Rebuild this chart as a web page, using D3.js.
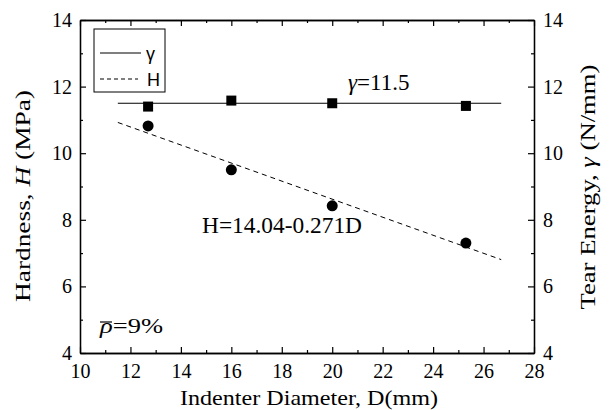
<!DOCTYPE html>
<html><head><meta charset="utf-8">
<script src="https://cdn.jsdelivr.net/npm/d3@7"></script>
<style>
body{margin:0;background:#fff}svg{display:block}
svg text{font-family:"Liberation Serif","Times New Roman",Times,serif !important;fill:#000}
svg text.sans{font-family:"Liberation Sans",Arial,Helvetica,sans-serif !important}
</style>
</head><body>
<svg id="c" width="610" height="410"></svg>
<script>
const diameters = [12.7, 16, 20, 25.3];
const gammaValues = [11.4, 11.58, 11.5, 11.42];
const hardnessValues = [10.82, 9.5, 8.42, 7.3];
const fitRange = [11.5, 26.7];
const gammaFit = 11.5;
const hardFitA = 14.04, hardFitB = 0.271;
const xTicks = [10,12,14,16,18,20,22,24,26,28];
const yTicks = [4,6,8,10,12,14];

const svg = d3.select("#c");
const L=80,R=534,T=20,B=353;
const x = d3.scaleLinear().domain([10,28]).range([L,R]);
const y = d3.scaleLinear().domain([4,14]).range([B,T]);
const yr = d3.scaleLinear().domain([4,14]).range([B,T]);

const minorX = d3.range(11,28,2), minorY = d3.range(5,14,2);
function drawAxis(g, axis){ g.call(axis); g.attr("font-family",null); g.select(".domain").attr("stroke","#000").attr("stroke-width",1.3); g.selectAll(".tick line").attr("stroke","#000").attr("stroke-width",1.2); }
function styleTicks(g){ g.attr("font-size",20); g.selectAll(".tick text").attr("font-size",20).attr("fill","#000"); }
// bottom
const bx = svg.append("g").attr("transform",`translate(0,${B})`);
drawAxis(bx, d3.axisBottom(x).tickValues(xTicks).tickSizeInner(-6).tickSizeOuter(0).tickFormat(d3.format("d")));
styleTicks(bx); bx.selectAll(".tick text").attr("y",25).attr("dy",null);
const bxm = svg.append("g").attr("transform",`translate(0,${B})`);
drawAxis(bxm, d3.axisBottom(x).tickValues(minorX).tickSizeInner(-3).tickSizeOuter(0).tickFormat(""));
// top
const tx = svg.append("g").attr("transform",`translate(0,${T})`);
drawAxis(tx, d3.axisTop(x).tickValues(xTicks).tickSizeInner(-6).tickSizeOuter(0).tickFormat(""));
const txm = svg.append("g").attr("transform",`translate(0,${T})`);
drawAxis(txm, d3.axisTop(x).tickValues(minorX).tickSizeInner(-3).tickSizeOuter(0).tickFormat(""));
// left
const ly = svg.append("g").attr("transform",`translate(${L},0)`);
drawAxis(ly, d3.axisLeft(y).tickValues(yTicks).tickSizeInner(-6).tickSizeOuter(0).tickFormat(d3.format("d")));
styleTicks(ly); ly.selectAll(".tick text").attr("x",-8);
const lym = svg.append("g").attr("transform",`translate(${L},0)`);
drawAxis(lym, d3.axisLeft(y).tickValues(minorY).tickSizeInner(-3).tickSizeOuter(0).tickFormat(""));
// right
const ry = svg.append("g").attr("transform",`translate(${R},0)`);
drawAxis(ry, d3.axisRight(yr).tickValues(yTicks).tickSizeInner(-6).tickSizeOuter(0).tickFormat(d3.format("d")));
styleTicks(ry); ry.selectAll(".tick text").attr("x",9);
const rym = svg.append("g").attr("transform",`translate(${R},0)`);
drawAxis(rym, d3.axisRight(yr).tickValues(minorY).tickSizeInner(-3).tickSizeOuter(0).tickFormat(""));

// fit lines
const line = d3.line().x(d=>x(d[0])).y(d=>y(d[1]));
svg.append("path").datum(fitRange.map(d=>[d,gammaFit])).attr("d",line).attr("fill","none").attr("stroke","#000").attr("stroke-width",1.1);
svg.append("path").datum(fitRange.map(d=>[d,hardFitA-hardFitB*d])).attr("d",line).attr("fill","none").attr("stroke","#000").attr("stroke-width",1).attr("stroke-dasharray","5,4");

// markers
svg.selectAll(".sq").data(diameters).enter().append("rect")
 .attr("x",(d)=>x(d)-5).attr("y",(d,i)=>yr(gammaValues[i])-5).attr("width",10).attr("height",10).attr("fill","#000");
svg.selectAll(".ci").data(diameters).enter().append("circle")
 .attr("cx",d=>x(d)).attr("cy",(d,i)=>y(hardnessValues[i])).attr("r",5.5).attr("fill","#000");

// legend
svg.append("rect").attr("x",94).attr("y",29).attr("width",71).attr("height",63).attr("fill","#fff").attr("stroke","#000").attr("stroke-width",1);
svg.append("line").attr("x1",100).attr("x2",141).attr("y1",53).attr("y2",53).attr("stroke","#000").attr("stroke-width",1.1);
svg.append("line").attr("x1",100).attr("x2",138).attr("y1",79).attr("y2",79).attr("stroke","#000").attr("stroke-width",1).attr("stroke-dasharray","4,3");
svg.append("text").attr("class","sans").attr("x",146).attr("y",60).attr("font-size",18).text("γ");
svg.append("text").attr("class","sans").attr("x",147).attr("y",86).attr("font-size",18).text("H");

// annotations
const g1 = svg.append("text").attr("x",348).attr("y",90).attr("font-size",23);
g1.append("tspan").attr("font-style","italic").text("γ");
g1.append("tspan").text("=11.5");
svg.append("text").attr("x",202).attr("y",233).attr("font-size",23).attr("textLength",160).attr("lengthAdjust","spacingAndGlyphs").text("H=14.04-0.271D");
const rho = svg.append("text").attr("x",100).attr("y",333).attr("font-size",20).attr("textLength",63).attr("lengthAdjust","spacingAndGlyphs");
rho.append("tspan").attr("font-style","italic").text("ρ");
rho.append("tspan").text("=9%");
svg.append("line").attr("x1",100).attr("x2",112).attr("y1",322).attr("y2",322).attr("stroke","#000").attr("stroke-width",1.2);

// axis titles
svg.append("text").attr("x",309).attr("y",405).attr("text-anchor","middle").attr("font-size",21).attr("textLength",258).attr("lengthAdjust","spacingAndGlyphs").text("Indenter Diameter, D(mm)");
const lt = svg.append("text").attr("transform",`translate(30,196) rotate(-90)`).attr("text-anchor","middle").attr("font-size",21).attr("textLength",212).attr("lengthAdjust","spacingAndGlyphs");
lt.append("tspan").text("Hardness, ");
lt.append("tspan").attr("font-style","italic").text("H");
lt.append("tspan").text(" (MPa)");
const rt = svg.append("text").attr("transform",`translate(595,187) rotate(-90)`).attr("text-anchor","middle").attr("font-size",21).attr("textLength",245).attr("lengthAdjust","spacingAndGlyphs");
rt.append("tspan").text("Tear Energy,  ");
rt.append("tspan").attr("font-style","italic").text("γ");
rt.append("tspan").text(" (N/mm)");
</script>
</body></html>
